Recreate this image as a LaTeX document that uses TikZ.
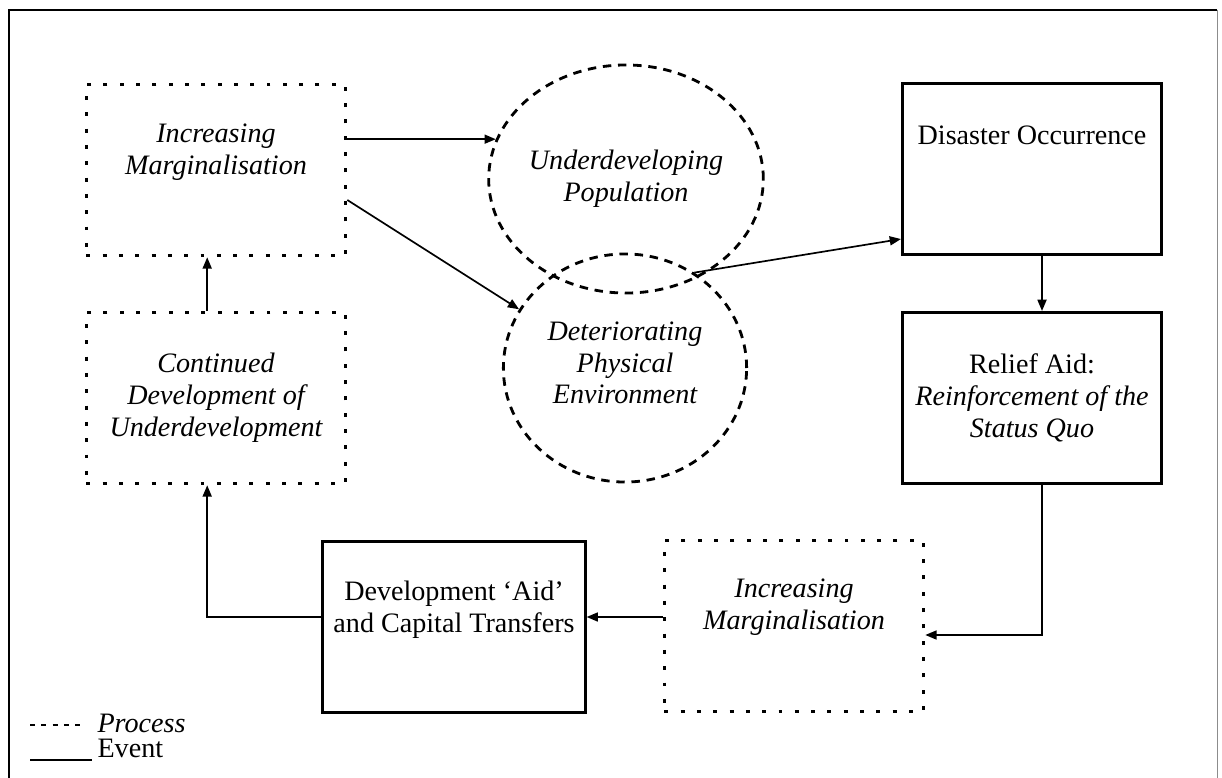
\documentclass[tikz,border=0pt]{standalone}
\usepackage{fontspec}
\setmainfont{Liberation Serif}
\usetikzlibrary{shapes.geometric,calc,arrows.meta}

\begin{document}
\begin{tikzpicture}[x=0.0125cm,y=-0.0125cm,font=\fontsize{10}{11.3}\selectfont,
  eventbox/.style={draw,line width=1pt,minimum width=3.24cm,minimum height=2.14cm,align=center,inner sep=0pt},
  procbox/.style={draw,line width=1.2pt,dash pattern=on 1.4pt off 4.4pt,minimum width=3.24cm,minimum height=2.14cm,align=center,inner sep=0pt},
  procell/.style={ellipse,draw,line width=1pt,dash pattern=on 3pt off 2.4pt,minimum width=3.04cm,minimum height=2.85cm,align=center,inner sep=0pt},
  txt/.style={align=center,inner sep=0pt,font=\fontsize{10}{11.3}\selectfont\itshape},
  arr/.style={-{Triangle[length=4pt,width=3.2pt]},line width=0.6pt}]

\useasboundingbox (0,0) rectangle (1222,778);

% frame
\draw[line width=1pt] (9,778) -- (9,10) -- (1217,10);
\draw[line width=0.3pt,black!45] (1217,10) -- (1217,778);

% processes
\node[procbox] (imA) at (216,170) {};
\node[txt] (imA-txt) at (216,152) {Increasing\\Marginalisation};
\node[procbox] (cdu) at (216,398) {\itshape Continued\\\itshape Development of\\\itshape Underdevelopment};
\node[procbox] (imB) at (794,626) {};
\node[txt] (imB-txt) at (794,607) {Increasing\\Marginalisation};

\node[procell] (ud) at (626,179) {\itshape Underdeveloping\\\itshape Population};
\node[procell] (dpe) at (625,368) {};
\node[txt] (dpe-txt) at (625,363) {Deteriorating\\Physical\\Environment};

% events
\node[eventbox] (dis) at (1032,169) {};
\node[inner sep=0pt] (dis-txt) at (1032,135) {Disaster Occurrence};
\node[eventbox] (rel) at (1032,398) {Relief Aid:\\\itshape Reinforcement of the\\\itshape Status Quo};
\node[eventbox,minimum width=3.28cm] (dev) at (454,627) {};
\node[inner sep=0pt,align=center] (dev-txt) at (454,610) {Development `Aid'\\and Capital Transfers};

% connectors
\coordinate (imB-out) at ($(imB.west)+(0,-9)$);
\coordinate (dev-out) at ($(dev.west)+(0,-10)$);
\draw[arr] (ud.163 -| imA.east) -- (ud.163);
\draw[arr] ($(imA.east)+(0,30)$) -- (dpe.151);
\draw[arr] (dpe.54) -- ($(dis.south west)+(0,-17)$);
\draw[arr] ([xshift=0.125cm]dis.south) -- ([xshift=0.125cm]rel.north);
\draw[arr] ([xshift=0.125cm]rel.south) |- ($(imB.east)+(0,9)$);
\draw[arr] (imB-out) -- (imB-out -| dev.east);
\draw[arr] (dev-out) -| ([xshift=-0.11cm]cdu.south);
\draw[arr] ([xshift=-0.11cm]cdu.north) -- ([xshift=-0.11cm]imA.south);

% legend
\node[anchor=west,inner sep=0pt,font=\fontsize{10}{11.3}\selectfont\itshape] (leg-proc) at (97,723) {Process};
\node[anchor=west,inner sep=0pt] (leg-evt) at (97,748) {Event};
\draw[line width=0.9pt,dash pattern=on 1.8pt off 2.2pt] ($(leg-proc.west)+(-67,2)$) -- ($(leg-proc.west)+(-12,2)$);
\draw[line width=0.7pt] ($(leg-evt.west)+(-67,12)$) -- ($(leg-evt.west)+(-5,12)$);

\end{tikzpicture}
\end{document}
